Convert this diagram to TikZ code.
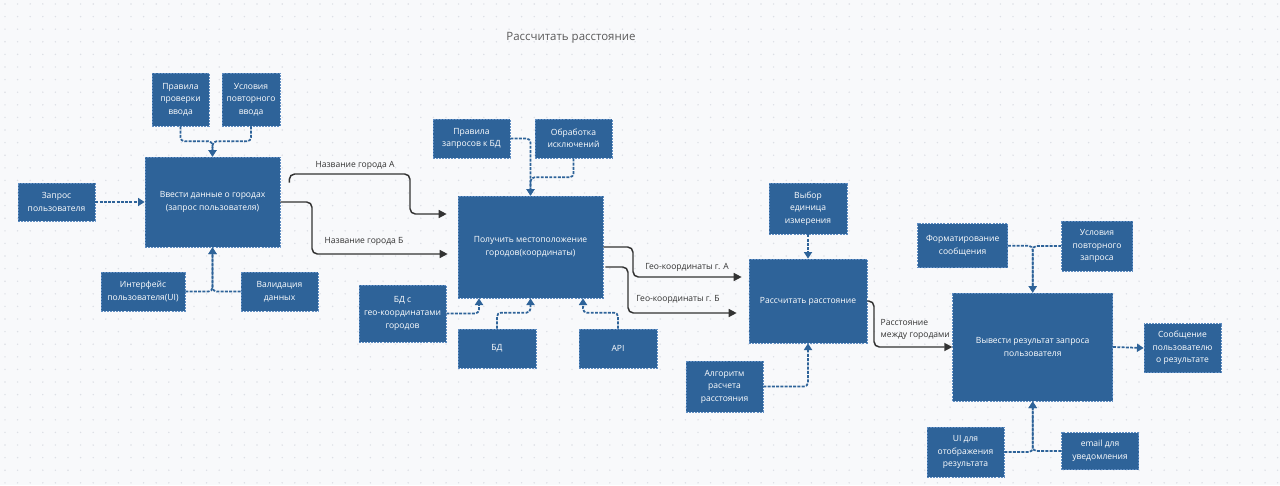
\documentclass[tikz,border=0pt]{standalone}
\usepackage{fontspec}
\setmainfont{Open Sans}
\usetikzlibrary{arrows.meta,calc}
\definecolor{bgc}{HTML}{F8F9FB}
\definecolor{dotc}{HTML}{DCDFE5}
\definecolor{boxfill}{HTML}{2E6399}
\definecolor{boxline}{HTML}{5F8DC2}
\definecolor{conn}{HTML}{2E6399}
\definecolor{lineclr}{HTML}{333333}

\begin{document}
\begin{tikzpicture}[x=0.75pt, y=-0.75pt,
    box/.style={rectangle, fill=boxfill, draw=boxline, dash pattern=on 1.5pt off 0.8pt, line width=0.5pt, text=white, align=center, inner sep=0pt, font=\fontsize{6.4}{9.4}\selectfont},
    link/.style={draw=conn, line width=1.3pt, dash pattern=on 2.2pt off 1pt, rounded corners=3pt, -{Triangle[length=5pt,width=6pt]}},
    flow/.style={draw=lineclr, line width=1.1pt, rounded corners=4pt, -{Triangle[length=6pt,width=6pt]}},
    lbl/.style={text=lineclr, align=left, font=\fontsize{6.4}{9.4}\selectfont}]
    \fill[bgc] (0,0) rectangle (1280,485);
    \useasboundingbox (0,0) rectangle (1280,485);
    \foreach \i in {0,...,101} {
      \foreach \j in {0,...,38} {
        \fill[dotc] (5+\i*12.6, 4+\j*12.6) circle (0.6pt);
      }
    }
    \node[text=black!65, font=\fontsize{8.6}{10}\selectfont] (title) at (571,38) {Рассчитать расстояние};

    \node[box, minimum width=57.75pt, minimum height=28.5pt] (zapros) at (56.5,202) {Запрос\\пользователя};
    \node[box, minimum width=42.75pt, minimum height=39.75pt] (prav) at (180.5,99.5) {Правила\\проверки\\ввода};
    \node[box, minimum width=43.5pt, minimum height=39.75pt] (uslvvod) at (251,99.5) {Условия\\повторного\\ввода};
    \node[box, minimum width=101.25pt, minimum height=67.5pt] (vvod) at (212.5,202) {Ввести данные о городах\\(запрос пользователя)};
    \node[box, minimum width=63pt, minimum height=29.25pt] (ui) at (143,291.5) {Интерфейс\\пользователя(UI)};
    \node[box, minimum width=57.75pt, minimum height=29.25pt] (valid) at (279.5,291.5) {Валидация\\данных};

    \node[box, minimum width=108.75pt, minimum height=76.5pt] (pol) at (530.5,247) {Получить местоположение\\городов(координаты)};
    \node[box, minimum width=57.75pt, minimum height=29.25pt] (pravbd) at (471.5,138.5) {Правила\\запросов к БД};
    \node[box, minimum width=57.75pt, minimum height=29.25pt] (obr) at (573.5,138.5) {Обработка\\исключений};
    \node[box, minimum width=65.25pt, minimum height=42.75pt] (bdgeo) at (402.5,313.5) {БД с\\гео-координатами\\городов};
    \node[box, minimum width=58.5pt, minimum height=29.25pt] (bd) at (497,348.5) {БД};
    \node[box, minimum width=58.5pt, minimum height=29.25pt] (api) at (618,348.5) {API};

    \node[box, minimum width=88.5pt, minimum height=63pt] (rasch) at (808,301) {Рассчитать расстояние};
    \node[box, minimum width=58.5pt, minimum height=38.25pt] (vybor) at (808,208.5) {Выбор\\единица\\измерения};
    \node[box, minimum width=57.75pt, minimum height=38.25pt] (algo) at (724.5,386.5) {Алгоритм\\расчета\\расстояния};

    \node[box, minimum width=120pt, minimum height=81pt] (vyvod) at (1032.7,347) {Вывести результат запроса\\пользователя};
    \node[box, minimum width=67.5pt, minimum height=33pt] (format) at (962.7,245.8) {Форматирование\\сообщения};
    \node[box, minimum width=53.25pt, minimum height=37.5pt] (uslzapr) at (1097,246) {Условия\\повторного\\запроса};
    \node[box, minimum width=57.75pt, minimum height=36.75pt] (soob) at (1182.5,348) {Сообщение\\пользователю\\о результате};
    \node[box, minimum width=57.75pt, minimum height=37.5pt] (uires) at (965.5,452) {UI для\\отображения\\результата};
    \node[box, minimum width=57.75pt, minimum height=27.75pt] (email) at (1100,451) {email для\\уведомления};

    \draw[link] (zapros) -- (vvod);
    \draw[link] (prav.south) -- ++(0,15) -| (vvod.north);
    \draw[link] (uslvvod.south) -- ++(0,15) -| (vvod.north);
    \draw[link] (ui.east) -| (vvod.south);
    \draw[link] (valid.west) -| (vvod.south);

    \coordinate (startA) at ($(vvod.north east)+(9,26)$);
    \draw[flow] (startA) |- (410,174) |- ($(pol.west)+(-11,-33)$);
    \node[lbl] (nameA) at (355,165) {Название города А};
    \draw[flow] (vvod.east) -| (312,254) -- ($(pol.west)+(-10,7)$);
    \node[lbl] (nameB) at (364,241) {Название города Б};

    \draw[link] (pravbd.east) -| (pol.north);
    \draw[link] (obr.south) -- ++(0,19) -| (pol.north);
    \draw[link] (bdgeo.east) -| ($(pol.south)+(-51.5,0)$);
    \draw[link] (bd.north) -- ++(0,-16) -| (pol.south);
    \draw[link] (api.north) -- ++(0,-16) -| ($(pol.south)+(52.5,0)$);

    \draw[flow] (pol.east) -| (633,277) -- ($(rasch.west)+(-7,-24)$);
    \node[lbl] (geoA) at (687,267) {Гео-координаты г. А};
    \coordinate (startB) at ($(pol.east)+(2,20)$);
    \draw[flow] (startB) -| (628,313) -- ($(rasch.west)+(-12,12)$);
    \node[lbl] (geoB) at (678,299) {Гео-координаты г. Б};

    \draw[link] (vybor.south) -- (rasch.north);
    \draw[link] (algo.east) -| (rasch.south);

    \draw[flow] (rasch.east) -| (874,347) -- (vyvod.west);
    \node[lbl, anchor=west] (dist) at (876,329.5) {Расстояние\\между городами};

    \draw[link] (format.east) -| (vyvod.north);
    \draw[link] (uslzapr.west) -| (vyvod.north);
    \draw[link] (uires.east) -| (vyvod.south);
    \draw[link] (email.west) -| (vyvod.south);
    \draw[link] (vyvod.east) -- (soob.west);
  \end{tikzpicture}
\end{document}
